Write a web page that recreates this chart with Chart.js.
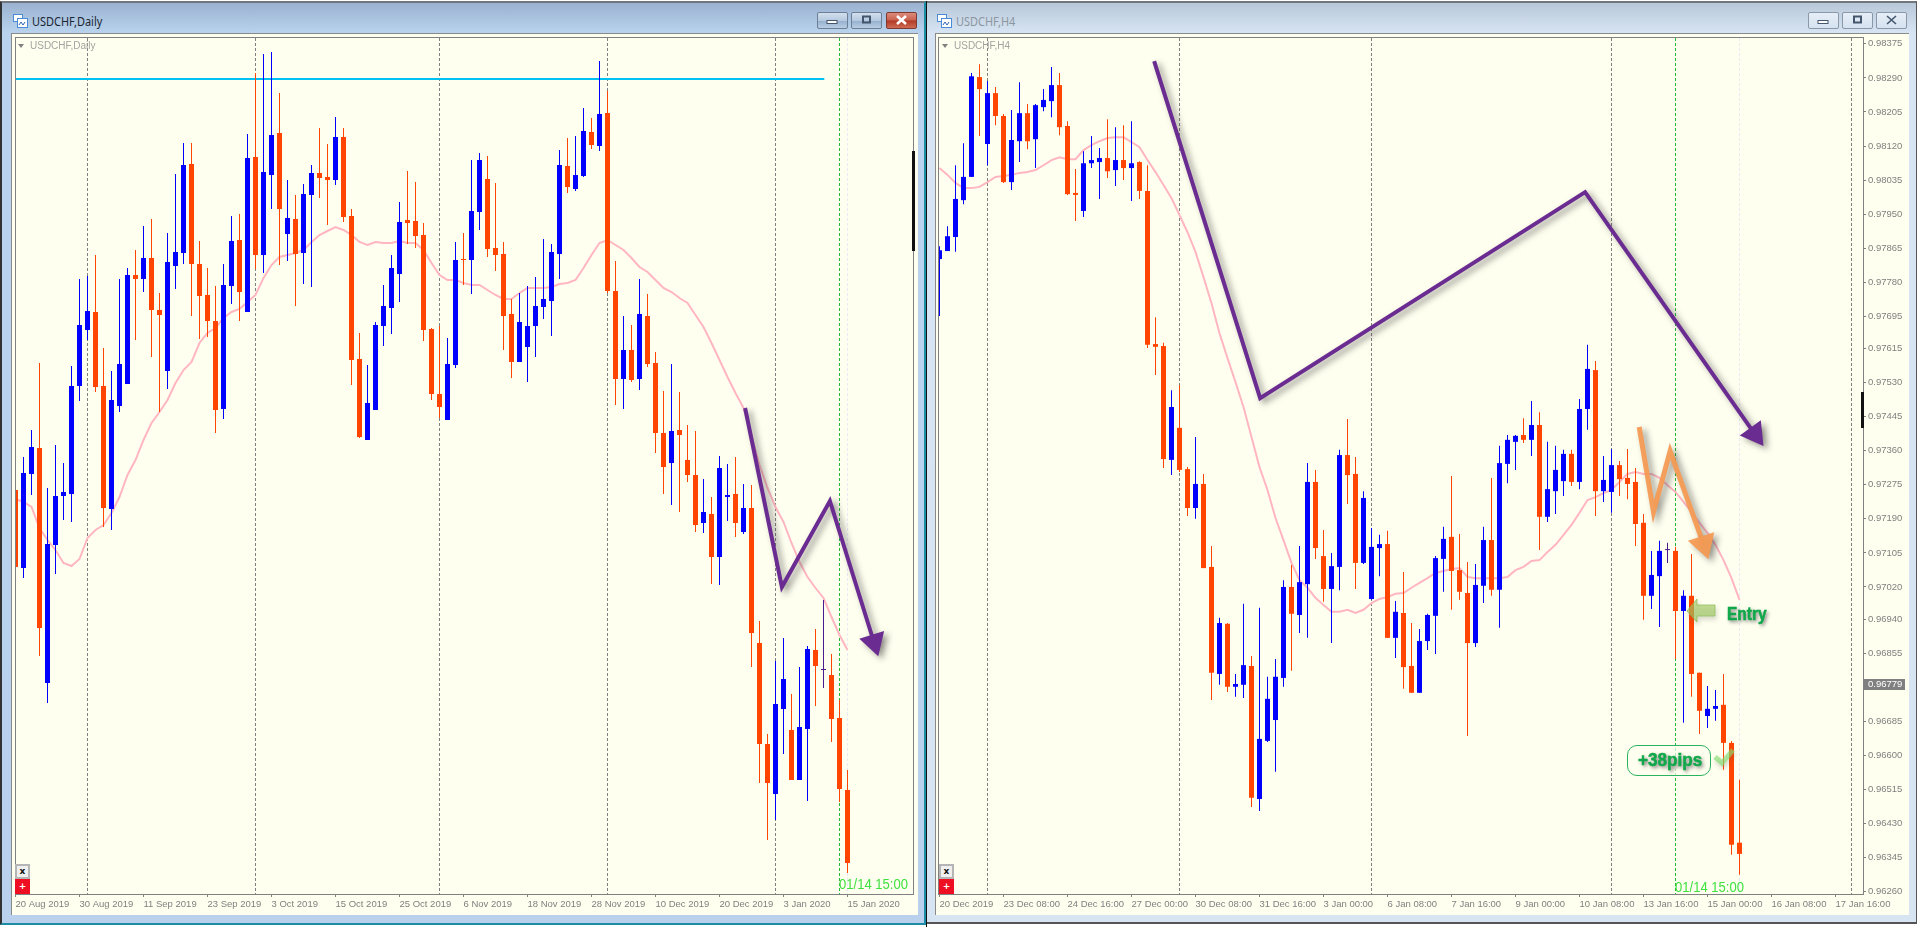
<!DOCTYPE html>
<html>
<head>
<meta charset="utf-8">
<title>USDCHF</title>
<script src="https://cdn.jsdelivr.net/npm/chart.js@4/dist/chart.umd.min.js"></script>
<style>
  html, body { margin: 0; padding: 0; background: #fff; }
  #page { position: relative; width: 1920px; height: 927px; overflow: hidden; background: #fff; }
  .win { position: absolute; top: 1px; box-sizing: border-box; border-top: 2px solid #70767b; }
  #winLeft { left: 0; width: 926px; height: 924px; background: linear-gradient(#9ab2d0 0, #b9d3ee 30px, #b9d1ec 100%); border-left: 2px solid #333; border-right: 2px solid #1b8ea6; border-bottom: 2px solid #1b8ea6; }
  #winRight { left: 927px; width: 990px; height: 923px; background: linear-gradient(#b9c8d9 0, #d6e4f3 30px, #d7e4f2 100%); border-right: 1px solid #555; border-bottom: 2px solid #555; }
  #gap { position: absolute; left: 926px; top: 1px; width: 1px; height: 926px; background: #111; }
  .title { position: absolute; top: 13px; font: 12.5px "Noto Sans", sans-serif; color: #1c2733; white-space: nowrap; transform: scaleX(.875); transform-origin: left top; }
  .title.off { color: #8c96a0; }
  .icon { position: absolute; top: 14px; width: 15px; height: 14px; }
  .panel { position: absolute; top: 33px; height: 882px; background: #fffff0; border-top: 1px solid #8a8a8a; box-sizing: border-box; border-left: 1px solid #8a8a8a; }
  canvas { position: absolute; left: -1px; top: -1px; }
  .btn { position: absolute; top: 12px; width: 31px; height: 17px; box-sizing: border-box; border: 1px solid #6d7f95; border-radius: 2px; background: linear-gradient(#d3e0ee 0, #b5c9df 50%, #94afcd 52%, #b9cee4 100%); }
  .btn svg { position: absolute; left: 0; top: 0; }
  .btn.off { background: linear-gradient(#e6eef7, #d5e2f0); border-color: #8b98a8; }
  .btn.close { background: linear-gradient(#dd8b7c 0, #c9604e 48%, #b03a24 52%, #cf6b55 100%); border-color: #7c3a30; }
  .chartName { position: absolute; font: 10px "Liberation Sans", sans-serif; color: #a3a3a0; white-space: nowrap; }
  .tri { position: absolute; width: 0; height: 0; border-left: 3.5px solid transparent; border-right: 3.5px solid transparent; border-top: 4px solid #808080; }
  .clock { position: absolute; font: 15px "Liberation Sans", sans-serif; color: #3fe03f; white-space: nowrap; transform: scaleX(.87); transform-origin: left top; }
  .mini { position: absolute; width: 15px; height: 15px; box-sizing: border-box; background: #efefef; border: 2px solid #b5b5b5; font: bold 9px/11px "DejaVu Sans", sans-serif; color: #111; text-align: center; }
  .miniRed { background: #ee0f22; border-color: #ee0f22; color: #fff; }
  .bar { position: absolute; background: #111; }
  .entry { position: absolute; left: 1727px; top: 604px; font: bold 18px "Liberation Sans", sans-serif; color: #10a84a; text-shadow: 2px 2px 4px rgba(60,60,60,.7); -webkit-text-stroke: .6px #10a84a; transform: scaleX(.86); transform-origin: left top; }
  .pips { position: absolute; left: 1627px; top: 745px; width: 84px; height: 31px; box-sizing: border-box; border: 1px solid #2cb35f; border-radius: 10px; background: rgba(255,255,240,.72); }
  .pips span { position: absolute; left: 10px; top: 4px; font: bold 18px "Liberation Sans", sans-serif; color: #10a84a; white-space: nowrap; text-shadow: 2px 2px 4px rgba(60,60,60,.7); -webkit-text-stroke: .5px #10a84a; transform: scaleX(.95); transform-origin: left top; }
  #overlay { position: absolute; left: 0; top: 0; }
</style>
</head>
<body>
<div id="page">
  <div id="winLeft" class="win"></div>
  <div id="gap"></div>
  <div id="winRight" class="win"></div>

  <svg class="icon" style="left:13px" viewBox="0 0 15 14"><rect x="0.5" y="0.5" width="9" height="7" fill="#fff" stroke="#4a8bd8"/><rect x="4.5" y="4.5" width="10" height="9" fill="#fff" stroke="#4a8bd8"/><path d="M6 11l2-3 2 3 2-3" fill="none" stroke="#2a63b0"/></svg>
  <div class="title" style="left:32px">USDCHF,Daily</div>
  <div class="btn" style="left:817px"><svg width="29" height="15"><rect x="9" y="7.5" width="10" height="3" fill="#fff" stroke="#44566c"/></svg></div>
  <div class="btn" style="left:851px"><svg width="29" height="15"><rect x="11" y="3.5" width="7" height="6" fill="none" stroke="#44566c" stroke-width="2"/></svg></div>
  <div class="btn close" style="left:886px"><svg width="29" height="15"><path d="M10 3l9 8M19 3l-9 8" stroke="#fff" stroke-width="2.6"/></svg></div>

  <svg class="icon" style="left:937px" viewBox="0 0 15 14"><rect x="0.5" y="0.5" width="9" height="7" fill="#fff" stroke="#4a8bd8"/><rect x="4.5" y="4.5" width="10" height="9" fill="#fff" stroke="#4a8bd8"/><path d="M6 11l2-3 2 3 2-3" fill="none" stroke="#2a63b0"/></svg>
  <div class="title off" style="left:956px">USDCHF,H4</div>
  <div class="btn off" style="left:1808px"><svg width="29" height="15"><rect x="9" y="7.5" width="10" height="3" fill="#fff" stroke="#44566c"/></svg></div>
  <div class="btn off" style="left:1842px"><svg width="29" height="15"><rect x="11" y="3.5" width="7" height="6" fill="none" stroke="#44566c" stroke-width="2"/></svg></div>
  <div class="btn off" style="left:1876px"><svg width="29" height="15"><path d="M10 3l9 8M19 3l-9 8" stroke="#44566c" stroke-width="1.6"/></svg></div>

  <div class="panel" style="left:11px;width:907px"><canvas id="dailyChart" width="907" height="882"></canvas></div>
  <div class="panel" style="left:935px;width:974px"><canvas id="h4Chart" width="974" height="882"></canvas></div>

  <div class="tri" style="left:18px;top:44px"></div>
  <div class="chartName" style="left:30px;top:40px">USDCHF,Daily</div>
  <div class="tri" style="left:942px;top:44px"></div>
  <div class="chartName" style="left:954px;top:40px">USDCHF,H4</div>

  <div class="clock" style="left:839px;top:875px">01/14 15:00</div>
  <div class="clock" style="left:1675px;top:878px">01/14 15:00</div>

  <div class="mini" style="left:15px;top:864px">x</div>
  <div class="mini miniRed" style="left:15px;top:879px">+</div>
  <div class="mini" style="left:939px;top:864px">x</div>
  <div class="mini miniRed" style="left:939px;top:879px">+</div>

  <div class="bar" style="left:912px;top:151px;width:3px;height:100px"></div>
  <div class="bar" style="left:1861px;top:392px;width:3px;height:36px"></div>

  <svg id="overlay" width="1920" height="927">
    <defs><filter id="soft" x="-40%" y="-40%" width="180%" height="200%"><feDropShadow dx="1" dy="3" stdDeviation="2" flood-color="#555" flood-opacity=".35"/></filter></defs>
    <polygon points="1687,611 1697,599 1697,605 1715,605 1715,616 1697,616 1697,622" fill="rgba(160,200,95,.62)" stroke="rgba(140,190,90,.75)" filter="url(#soft)"/>
    <polyline points="1715,757 1722,763 1733,750" fill="none" stroke="rgba(130,220,110,.65)" stroke-width="5" filter="url(#soft)"/>
  </svg>
  <div class="entry">Entry</div>
  <div class="pips"><span>+38pips</span></div>
</div>

<script>
// quotes are kept in points, 100000 = 1.00000
var dailyTickLabels = ["20 Aug 2019", "30 Aug 2019", "11 Sep 2019", "23 Sep 2019", "3 Oct 2019", "15 Oct 2019", "25 Oct 2019", "6 Nov 2019", "18 Nov 2019", "28 Nov 2019", "10 Dec 2019", "20 Dec 2019", "3 Jan 2020", "15 Jan 2020"];
var h4TickLabels = ["20 Dec 2019", "23 Dec 08:00", "24 Dec 16:00", "27 Dec 00:00", "30 Dec 08:00", "31 Dec 16:00", "3 Jan 00:00", "6 Jan 08:00", "7 Jan 16:00", "9 Jan 00:00", "10 Jan 08:00", "13 Jan 16:00", "15 Jan 00:00", "16 Jan 08:00", "17 Jan 16:00"];
var h4PriceTicks = [98375, 98290, 98205, 98120, 98035, 97950, 97865, 97780, 97695, 97615, 97530, 97445, 97360, 97275, 97190, 97105, 97020, 96940, 96855, 96770, 96685, 96600, 96515, 96430, 96345, 96260];
var h4LastPrice = 96779;

var dailyOpen = [98080, 97690, 98160, 98290, 97115, 97805, 98050, 98060, 98600, 98880,
  98970, 98600, 97985, 98500, 98610, 99155, 99135, 99240, 98980, 98675,
  99200, 99265, 99710, 99210, 99055, 98925, 98485, 99100, 99330, 98970,
  99745, 99255, 99655, 99865, 99360, 99435, 99265, 99555, 99665, 99645,
  99630, 99845, 99450, 98735, 98330, 98480, 98900, 98990, 99160, 99430,
  99425, 99355, 98885, 98560, 98430, 98705, 99235, 99230, 99470, 99635,
  99290, 99260, 98960, 98720, 98795, 98900, 98995, 99025, 99260, 99700,
  99585, 99650, 99870, 99800, 99965, 99075, 98635, 98780, 98635, 98950,
  98715, 98365, 98215, 98380, 98230, 98155, 97915, 97960, 97745, 98045,
  98060, 97870, 97990, 97315, 96810, 96560, 96985, 96880, 96630, 96885,
  97280, 97180, 97155, 96940, 96580];
var dailyClose = [97695, 98165, 98295, 97390, 97810, 98050, 98070, 98600, 98905, 98975,
  98595, 97990, 98530, 98710, 99155, 99135, 99240, 98980, 98955, 99220,
  99270, 99705, 99210, 99050, 98925, 98480, 99105, 99325, 99070, 99740,
  99255, 99670, 99855, 99485, 99440, 99260, 99560, 99665, 99640, 99630,
  99845, 99445, 98730, 98345, 98515, 98905, 99000, 99190, 99420, 99415,
  99350, 98880, 98560, 98495, 98710, 99230, 99230, 99475, 99730, 99285,
  99255, 98950, 98720, 98920, 98900, 99000, 99035, 99270, 99705, 99595,
  99655, 99875, 99805, 99960, 99075, 98635, 98780, 98630, 98960, 98710,
  98365, 98195, 98375, 98355, 98155, 97905, 97970, 97745, 98190, 98055,
  97915, 97990, 97365, 96810, 96615, 97010, 97135, 96630, 96895, 97285,
  97200, 97180, 96935, 96585, 96215];
var dailyHigh = [98095, 98245, 98380, 98715, 98090, 98305, 98215, 98700, 99135, 99150,
  99255, 98790, 98675, 99135, 99190, 99280, 99400, 99435, 99065, 99365,
  99660, 99815, 99815, 99325, 99190, 99100, 99210, 99450, 99460, 99860,
  100165, 100260, 100270, 100065, 99630, 99555, 99610, 99705, 99890, 99810,
  99945, 99890, 99485, 98865, 98705, 98920, 99105, 99255, 99520, 99675,
  99620, 99415, 98890, 98900, 98840, 99320, 99365, 99730, 99765, 99750,
  99615, 99320, 99035, 99065, 99100, 99145, 99335, 99310, 99780, 99840,
  99850, 99990, 99940, 100225, 100075, 99225, 98950, 98905, 99135, 99060,
  98770, 98575, 98710, 98570, 98405, 98375, 98135, 98045, 98250, 98210,
  98245, 98110, 98105, 97425, 96860, 97225, 97340, 97060, 97195, 97300,
  97385, 97530, 97260, 97030, 96680];
var dailyLow = [97660, 97640, 98055, 97250, 97015, 97660, 97930, 97920, 98525, 98830,
  98570, 97895, 97880, 98470, 98610, 98830, 99070, 98745, 98470, 98585,
  99085, 99210, 98950, 98835, 98845, 98365, 98435, 99010, 98925, 98970,
  99185, 99165, 99485, 99205, 99225, 99000, 99110, 99095, 99540, 99405,
  99605, 99420, 98605, 98340, 98330, 98480, 98800, 98860, 99020, 99310,
  99290, 98825, 98530, 98440, 98430, 98690, 99105, 99060, 99380, 99245,
  99175, 98780, 98640, 98720, 98620, 98745, 98935, 98850, 99135, 99565,
  99575, 99645, 99785, 99775, 99065, 98505, 98485, 98620, 98580, 98695,
  98265, 98060, 98005, 97970, 98120, 97870, 97865, 97610, 97605, 97925,
  97845, 97860, 97195, 96615, 96330, 96430, 96760, 96630, 96630, 96525,
  97000, 97090, 96820, 96520, 96165];
var dailyMa = [98035, 98020, 97995, 97890, 97830, 97780, 97715, 97700, 97735, 97840,
  97880, 97905, 97965, 98045, 98155, 98230, 98330, 98415, 98470, 98530,
  98615, 98680, 98720, 98815, 98865, 98890, 98940, 98970, 98985, 99020,
  99055, 99140, 99205, 99245, 99255, 99265, 99280, 99320, 99355, 99375,
  99395, 99380, 99355, 99320, 99305, 99320, 99315, 99315, 99325, 99315,
  99315, 99280, 99215, 99155, 99130, 99130, 99115, 99105, 99105, 99080,
  99055, 99035, 99035, 99065, 99090, 99090, 99090, 99095, 99110, 99115,
  99130, 99190, 99255, 99315, 99330, 99305, 99280, 99240, 99195, 99170,
  99130, 99090, 99070, 99040, 99015, 98955, 98895, 98815, 98730, 98645,
  98565, 98490, 98350, 98205, 98090, 97995, 97920, 97815, 97720, 97645,
  97590, 97540, 97445, 97355, 97280];

var h4Open = [97838, 97858, 97893, 97985, 98043, 98292, 98125, 98252, 98195, 98030,
  98132, 98202, 98137, 98217, 98232, 98272, 98170, 98003, 97958, 98077,
  98080, 98090, 98060, 98085, 98065, 98080, 98008, 97626, 97621, 97337,
  97417, 97314, 97217, 97277, 97070, 96803, 96928, 96771, 96776, 96823,
  96491, 96636, 96688, 96793, 97020, 96950, 97027, 97282, 97097, 97015,
  97070, 97349, 97302, 97080, 96990, 97117, 97127, 96893, 96955, 96823,
  96756, 96885, 96948, 97090, 97145, 97062, 97005, 96880, 97023, 97137,
  97013, 97327, 97382, 97399, 97387, 97424, 97195, 97259, 97284, 97352,
  97282, 97464, 97561, 97259, 97257, 97324, 97292, 97282, 97180, 96998,
  97047, 97112, 97110, 96960, 96998, 96806, 96698, 96716, 96726, 96631,
  96382];
var h4Close = [97860, 97895, 97988, 98043, 98294, 98262, 98252, 98195, 98030, 98135,
  98202, 98132, 98222, 98235, 98272, 98167, 98000, 97998, 98077, 98085,
  98090, 98057, 98085, 98065, 98077, 98008, 97624, 97619, 97339, 97469,
  97312, 97217, 97277, 97067, 96806, 96930, 96771, 96778, 96825, 96494,
  96641, 96741, 96796, 97020, 96953, 97032, 97282, 97117, 97015, 97072,
  97349, 97299, 97080, 97242, 97120, 97127, 96893, 96958, 96820, 96756,
  96885, 96950, 97092, 97140, 97060, 97008, 96880, 97025, 97137, 97013,
  97329, 97387, 97397, 97387, 97424, 97195, 97264, 97312, 97352, 97282,
  97464, 97564, 97259, 97287, 97324, 97289, 97277, 97177, 96998, 97050,
  97110, 97112, 96960, 96998, 96803, 96711, 96716, 96723, 96631, 96377,
  96354];
var h4High = [97870, 97920, 98072, 98127, 98302, 98324, 98282, 98267, 98200, 98210,
  98279, 98225, 98225, 98262, 98317, 98302, 98182, 98063, 98107, 98145,
  98115, 98187, 98167, 98172, 98182, 98082, 98072, 97693, 97629, 97511,
  97524, 97319, 97394, 97302, 97122, 96943, 96930, 96803, 96978, 96848,
  96968, 96796, 96840, 97037, 97075, 97122, 97329, 97312, 97162, 97105,
  97362, 97439, 97344, 97259, 97167, 97150, 97160, 96985, 97057, 96930,
  96915, 96953, 97097, 97170, 97297, 97152, 97082, 97077, 97170, 97292,
  97372, 97399, 97399, 97441, 97484, 97456, 97382, 97372, 97362, 97362,
  97489, 97624, 97584, 97347, 97364, 97334, 97364, 97317, 97202, 97110,
  97135, 97130, 97120, 97012, 97102, 96806, 96773, 96763, 96803, 96636,
  96539];
var h4Low = [97696, 97858, 97856, 97975, 98043, 98145, 98072, 98172, 98028, 98010,
  98080, 98112, 98065, 98207, 98192, 98147, 97998, 97933, 97943, 98065,
  97988, 98040, 98020, 98035, 97983, 97988, 97616, 97549, 97317, 97299,
  97307, 97197, 97190, 97067, 96738, 96776, 96758, 96746, 96743, 96471,
  96461, 96633, 96559, 96771, 96811, 96905, 96893, 97090, 96983, 96880,
  97012, 97227, 97015, 97077, 96988, 97047, 96893, 96843, 96766, 96756,
  96756, 96863, 96853, 97008, 96963, 96988, 96648, 96870, 96980, 96998,
  96918, 97279, 97312, 97379, 97347, 97112, 97182, 97202, 97247, 97272,
  97264, 97412, 97197, 97232, 97205, 97247, 97239, 97122, 96938, 96965,
  96920, 97080, 96840, 96681, 96746, 96653, 96668, 96686, 96564, 96352,
  96302];
var h4Ma = [98065, 98048, 98028, 98015, 98015, 98018, 98030, 98043, 98045, 98048,
  98053, 98055, 98060, 98072, 98085, 98092, 98087, 98087, 98110, 98122,
  98132, 98140, 98142, 98142, 98130, 98117, 98085, 98055, 98023, 97990,
  97948, 97905, 97856, 97793, 97728, 97653, 97591, 97531, 97469, 97394,
  97319, 97262, 97192, 97137, 97080, 97037, 97018, 96993, 96975, 96958,
  96958, 96963, 96955, 96963, 96980, 96990, 96995, 97003, 97005, 97018,
  97030, 97042, 97055, 97060, 97065, 97067, 97045, 97042, 97042, 97042,
  97042, 97045, 97062, 97070, 97085, 97087, 97107, 97125, 97150, 97175,
  97205, 97237, 97244, 97254, 97262, 97282, 97302, 97307, 97302, 97302,
  97292, 97274, 97257, 97232, 97207, 97180, 97155, 97125, 97087, 97042,
  96988];

// bars where a period separator or the cursor line sits
var dailySeparators = [9, 30, 53, 74, 95];
var dailyCursor = 103;
var dailyFaint = 104;
var h4Separators = [6, 30, 54, 84, 114];
var h4Cursor = 92;
var h4Faint = 100;

// drawn objects: level line and trend arrows, as bar number / quote
var dailyLevelX = [0, 101.1];
var dailyLevelY = [100135, 100135];
var dailyArrowX = [91.2, 95.8, 101.8, 107.3];
var dailyArrowY = [98490, 97595, 98025, 97320];
var h4ArrowX = [26.83, 40.08, 80.7, 101.9];
var h4ArrowY = [98332, 97491, 98005, 97402];
var h4SmallArrowX = [87.46, 89.25, 91.33, 95.5];
var h4SmallArrowY = [97419, 97207, 97359, 97127];

var TICK_STEP = 8;
var UP = "#0000ff", DOWN = "#ff4500", FLAT = "#4b1a8c";

function points(xs, ys) {
  return ys.map(function (y, i) { return { x: xs ? xs[i] : i, y: y }; });
}

function candleColors(open, close) {
  return open.map(function (o, i) {
    return close[i] > o ? UP : (close[i] < o ? DOWN : FLAT);
  });
}

function arrowSet(xs, ys, color, width, size, turn) {
  var last = ys.length - 1;
  return {
    type: "line", order: 0, data: points(xs, ys), arrow: true,
    borderColor: color, borderWidth: width, tension: 0,
    borderJoinStyle: "miter", borderCapStyle: "butt",
    pointStyle: "triangle",
    pointRadius: ys.map(function (y, i) { return i === last ? size : 0; }),
    pointRotation: ys.map(function (y, i) { return i === last ? turn : 0; }),
    pointBackgroundColor: color, pointBorderColor: color, pointBorderWidth: 0
  };
}

var mt4Plugin = {
  id: "mt4",
  beforeDatasetsDraw: function (chart, args, o) {
    var ctx = chart.ctx, a = chart.chartArea, x = chart.scales.x;
    function dashed(bar, color) {
      var px = Math.round(x.getPixelForValue(bar) - 0.5) + 0.5;
      ctx.strokeStyle = color;
      ctx.beginPath();
      ctx.moveTo(px, a.top + 1);
      ctx.lineTo(px, a.bottom);
      ctx.stroke();
    }
    ctx.save();
    ctx.lineWidth = 1;
    ctx.setLineDash([3, 2]);
    o.separators.forEach(function (bar) { dashed(bar, "#808080"); });
    dashed(o.faint, "#eaeaf6");
    dashed(o.cursor, "#22b83a");
    ctx.restore();
  },
  beforeDatasetDraw: function (chart, args) {
    if (chart.data.datasets[args.index].arrow) {
      var ctx = chart.ctx;
      ctx.save();
      ctx.shadowColor = "rgba(40,40,40,.5)";
      ctx.shadowBlur = 6;
      ctx.shadowOffsetX = 4;
      ctx.shadowOffsetY = 3;
    }
  },
  afterDatasetDraw: function (chart, args) {
    if (chart.data.datasets[args.index].arrow) chart.ctx.restore();
  },
  afterDraw: function (chart, args, o) {
    var ctx = chart.ctx, a = chart.chartArea;
    ctx.save();
    ctx.strokeStyle = "#808080";
    ctx.lineWidth = 1;
    ctx.strokeRect(Math.round(a.left) + 0.5, Math.round(a.top) + 0.5, Math.round(a.right - a.left), Math.round(a.bottom - a.top));
    if (o.lastPrice) {
      var y = chart.scales.y.getPixelForValue(o.lastPrice);
      ctx.fillStyle = "#808080";
      ctx.fillRect(a.right + 1, Math.round(y) - 5, 41, 11);
      ctx.fillStyle = "#fff";
      ctx.font = "9.5px 'Liberation Sans', sans-serif";
      ctx.textBaseline = "middle";
      ctx.fillText((o.lastPrice / 100000).toFixed(5), a.right + 5, Math.round(y) + 0.5);
    }
    ctx.restore();
  }
};

function makeChart(id, c) {
  var isH4 = !!c.priceTicks;
  var tickFont = { family: "'Liberation Sans', sans-serif", size: 9.5 };
  var datasets = [
    { type: "bar", order: 1, grouped: false, barThickness: 5, minBarLength: 1, inflateAmount: 0,
      data: c.open.map(function (o, i) { return { x: i, y: [o, c.close[i]] }; }),
      backgroundColor: candleColors(c.open, c.close) },
    { type: "bar", order: 2, grouped: false, barThickness: 1, inflateAmount: 0,
      data: c.low.map(function (l, i) { return { x: i, y: [l, c.high[i]] }; }),
      backgroundColor: candleColors(c.open, c.close) },
    { type: "line", order: 3, data: points(null, c.ma), borderColor: "#ffb6c1", borderWidth: 2, pointRadius: 0, tension: 0 }
  ].concat(c.extra);

  return new Chart(document.getElementById(id).getContext("2d"), {
    type: "bar",
    data: { datasets: datasets },
    plugins: [mt4Plugin],
    options: {
      responsive: false,
      animation: false,
      events: [],
      layout: { autoPadding: false, padding: c.padding },
      plugins: {
        legend: { display: false },
        title: { display: false },
        tooltip: { enabled: false },
        mt4: { separators: c.separators, cursor: c.cursor, faint: c.faint, lastPrice: c.lastPrice }
      },
      scales: {
        x: {
          type: "linear", offset: false, min: c.xMin, max: c.xMax,
          border: { display: false },
          grid: { offset: false, drawOnChartArea: false, color: "#808080", tickLength: 3 },
          afterBuildTicks: function (s) {
            s.ticks = c.labels.map(function (l, i) { return { value: i * TICK_STEP }; });
          },
          afterFit: function (s) { s.height = 21; s.paddingLeft = 0; s.paddingRight = 0; },
          ticks: {
            autoSkip: false, maxRotation: 0, minRotation: 0, align: "start", padding: 2,
            color: "#808080", font: tickFont,
            callback: function (v) { return c.labels[v / TICK_STEP]; }
          }
        },
        y: {
          type: "linear", position: "right", display: isH4, min: c.yMin, max: c.yMax,
          border: { display: false },
          grid: { drawOnChartArea: false, color: "#808080", tickLength: 3 },
          afterBuildTicks: function (s) {
            if (isH4) s.ticks = c.priceTicks.map(function (v) { return { value: v }; });
          },
          afterFit: function (s) { if (isH4) { s.width = 46; s.paddingTop = 0; s.paddingBottom = 0; } },
          ticks: {
            autoSkip: false, padding: 2, color: "#808080", font: tickFont,
            callback: function (v) { return (v / 100000).toFixed(5); }
          }
        }
      }
    }
  });
}

makeChart("dailyChart", {
  open: dailyOpen, high: dailyHigh, low: dailyLow, close: dailyClose, ma: dailyMa,
  labels: dailyTickLabels,
  separators: dailySeparators, cursor: dailyCursor, faint: dailyFaint,
  padding: { left: 4, right: 5, top: 4, bottom: 0 },
  xMin: -0.0625, xMax: 112.1875, yMin: 96060, yMax: 100345,
  extra: [
    { type: "line", order: 4, data: points(dailyLevelX, dailyLevelY), borderColor: "#00bff3", borderWidth: 2, pointRadius: 0 },
    arrowSet(dailyArrowX, dailyArrowY, "#6b2c91", 4, 15, 163)
  ]
});

makeChart("h4Chart", {
  open: h4Open, high: h4High, low: h4Low, close: h4Close, ma: h4Ma,
  labels: h4TickLabels, priceTicks: h4PriceTicks, lastPrice: h4LastPrice,
  separators: h4Separators, cursor: h4Cursor, faint: h4Faint,
  padding: { left: 3, right: 0, top: 4, bottom: 0 },
  xMin: -0.1875, xMax: 115.4375, yMin: 96254, yMax: 98392,
  extra: [
    arrowSet(h4ArrowX, h4ArrowY, "#6b2c91", 4, 15, 144),
    arrowSet(h4SmallArrowX, h4SmallArrowY, "rgba(245,155,85,.95)", 5, 16, 162)
  ]
});
</script>
</body>
</html>
